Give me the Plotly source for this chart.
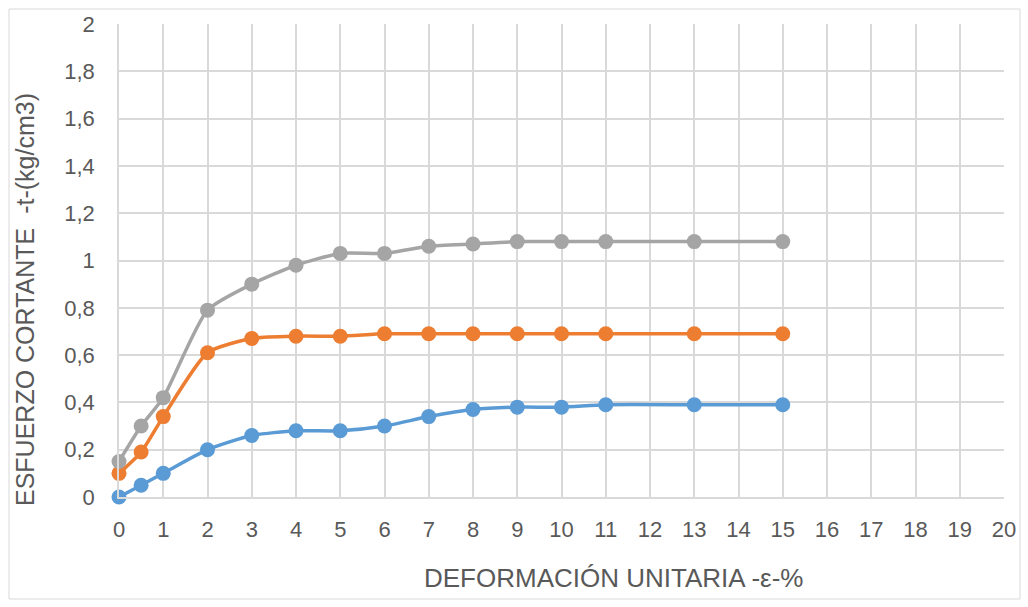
import plotly.graph_objects as go

# Deformación unitaria (%)
deformacion = [0, 0.5, 1, 2, 3, 4, 5, 6, 7, 8, 9, 10, 11, 13, 15]

# Esfuerzo cortante por serie (kg/cm3)
serie_gris = [0.15, 0.30, 0.42, 0.79, 0.90, 0.98, 1.03, 1.03, 1.06, 1.07, 1.08, 1.08, 1.08, 1.08, 1.08]
serie_naranja = [0.10, 0.19, 0.34, 0.61, 0.67, 0.68, 0.68, 0.69, 0.69, 0.69, 0.69, 0.69, 0.69, 0.69, 0.69]
serie_azul = [0.00, 0.05, 0.10, 0.20, 0.26, 0.28, 0.28, 0.30, 0.34, 0.37, 0.38, 0.38, 0.39, 0.39, 0.39]

titulo_x = "DEFORMACIÓN UNITARIA -ε-%"
titulo_y = "ESFUERZO CORTANTE  -t-(kg/cm3)"

series = [
    (serie_azul, "#5B9BD5"),
    (serie_naranja, "#ED7D31"),
    (serie_gris, "#A5A5A5"),
]

W, H = 1028, 607
L, R, T, B = 119, 24, 24, 110
pw, ph = W - L - R, H - T - B

fig = go.Figure()
for valores, color in series:
    fig.add_trace(go.Scatter(
        x=deformacion, y=valores, mode="lines+markers",
        line=dict(color=color, width=3.5, shape="spline", smoothing=0.6),
        marker=dict(color=color, size=15),
        showlegend=False, cliponaxis=False,
    ))

font_family = "Liberation Sans, Arial, sans-serif"
tick_font = dict(family=font_family, color="#595959", size=22)
fig.update_layout(
    width=W, height=H,
    margin=dict(l=L, r=R, t=T, b=B),
    paper_bgcolor="white", plot_bgcolor="white",
    separators=",.",
    font=dict(family=font_family, color="#595959", size=22),
    xaxis=dict(
        range=[0, 20], tickmode="linear", tick0=0, dtick=1,
        showgrid=True, gridcolor="#D9D9D9", gridwidth=1.5,
        zeroline=False, showline=True, linecolor="#D9D9D9", linewidth=1.5,
        ticks="outside", ticklen=12, tickcolor="rgba(0,0,0,0)", tickfont=tick_font,
    ),
    yaxis=dict(
        range=[0, 2], tickmode="linear", tick0=0, dtick=0.2,
        showgrid=True, gridcolor="#D9D9D9", gridwidth=1.5,
        zeroline=False, showline=True, linecolor="#D9D9D9", linewidth=1.5,
        ticks="outside", ticklen=18, tickcolor="rgba(0,0,0,0)", tickfont=tick_font,
    ),
    annotations=[
        dict(text=titulo_x, xref="paper", yref="paper",
             x=(613 - L) / pw, y=-(578 - (T + ph)) / ph,
             xanchor="center", yanchor="middle", showarrow=False,
             font=dict(size=26)),
        dict(text=titulo_y, xref="paper", yref="paper", textangle=-90,
             x=(25 - L) / pw, y=(T + ph - 300) / ph,
             xanchor="center", yanchor="middle", showarrow=False,
             font=dict(size=25)),
    ],
    shapes=[dict(
        type="rect", xref="paper", yref="paper",
        x0=(9 - L) / pw, x1=(W - 8 - L) / pw,
        y0=-(H - 8 - (T + ph)) / ph, y1=1 + (T - 9) / ph,
        line=dict(color="#D9D9D9", width=1), fillcolor="rgba(0,0,0,0)", layer="below",
    )],
)

fig.write_html("out.html")
